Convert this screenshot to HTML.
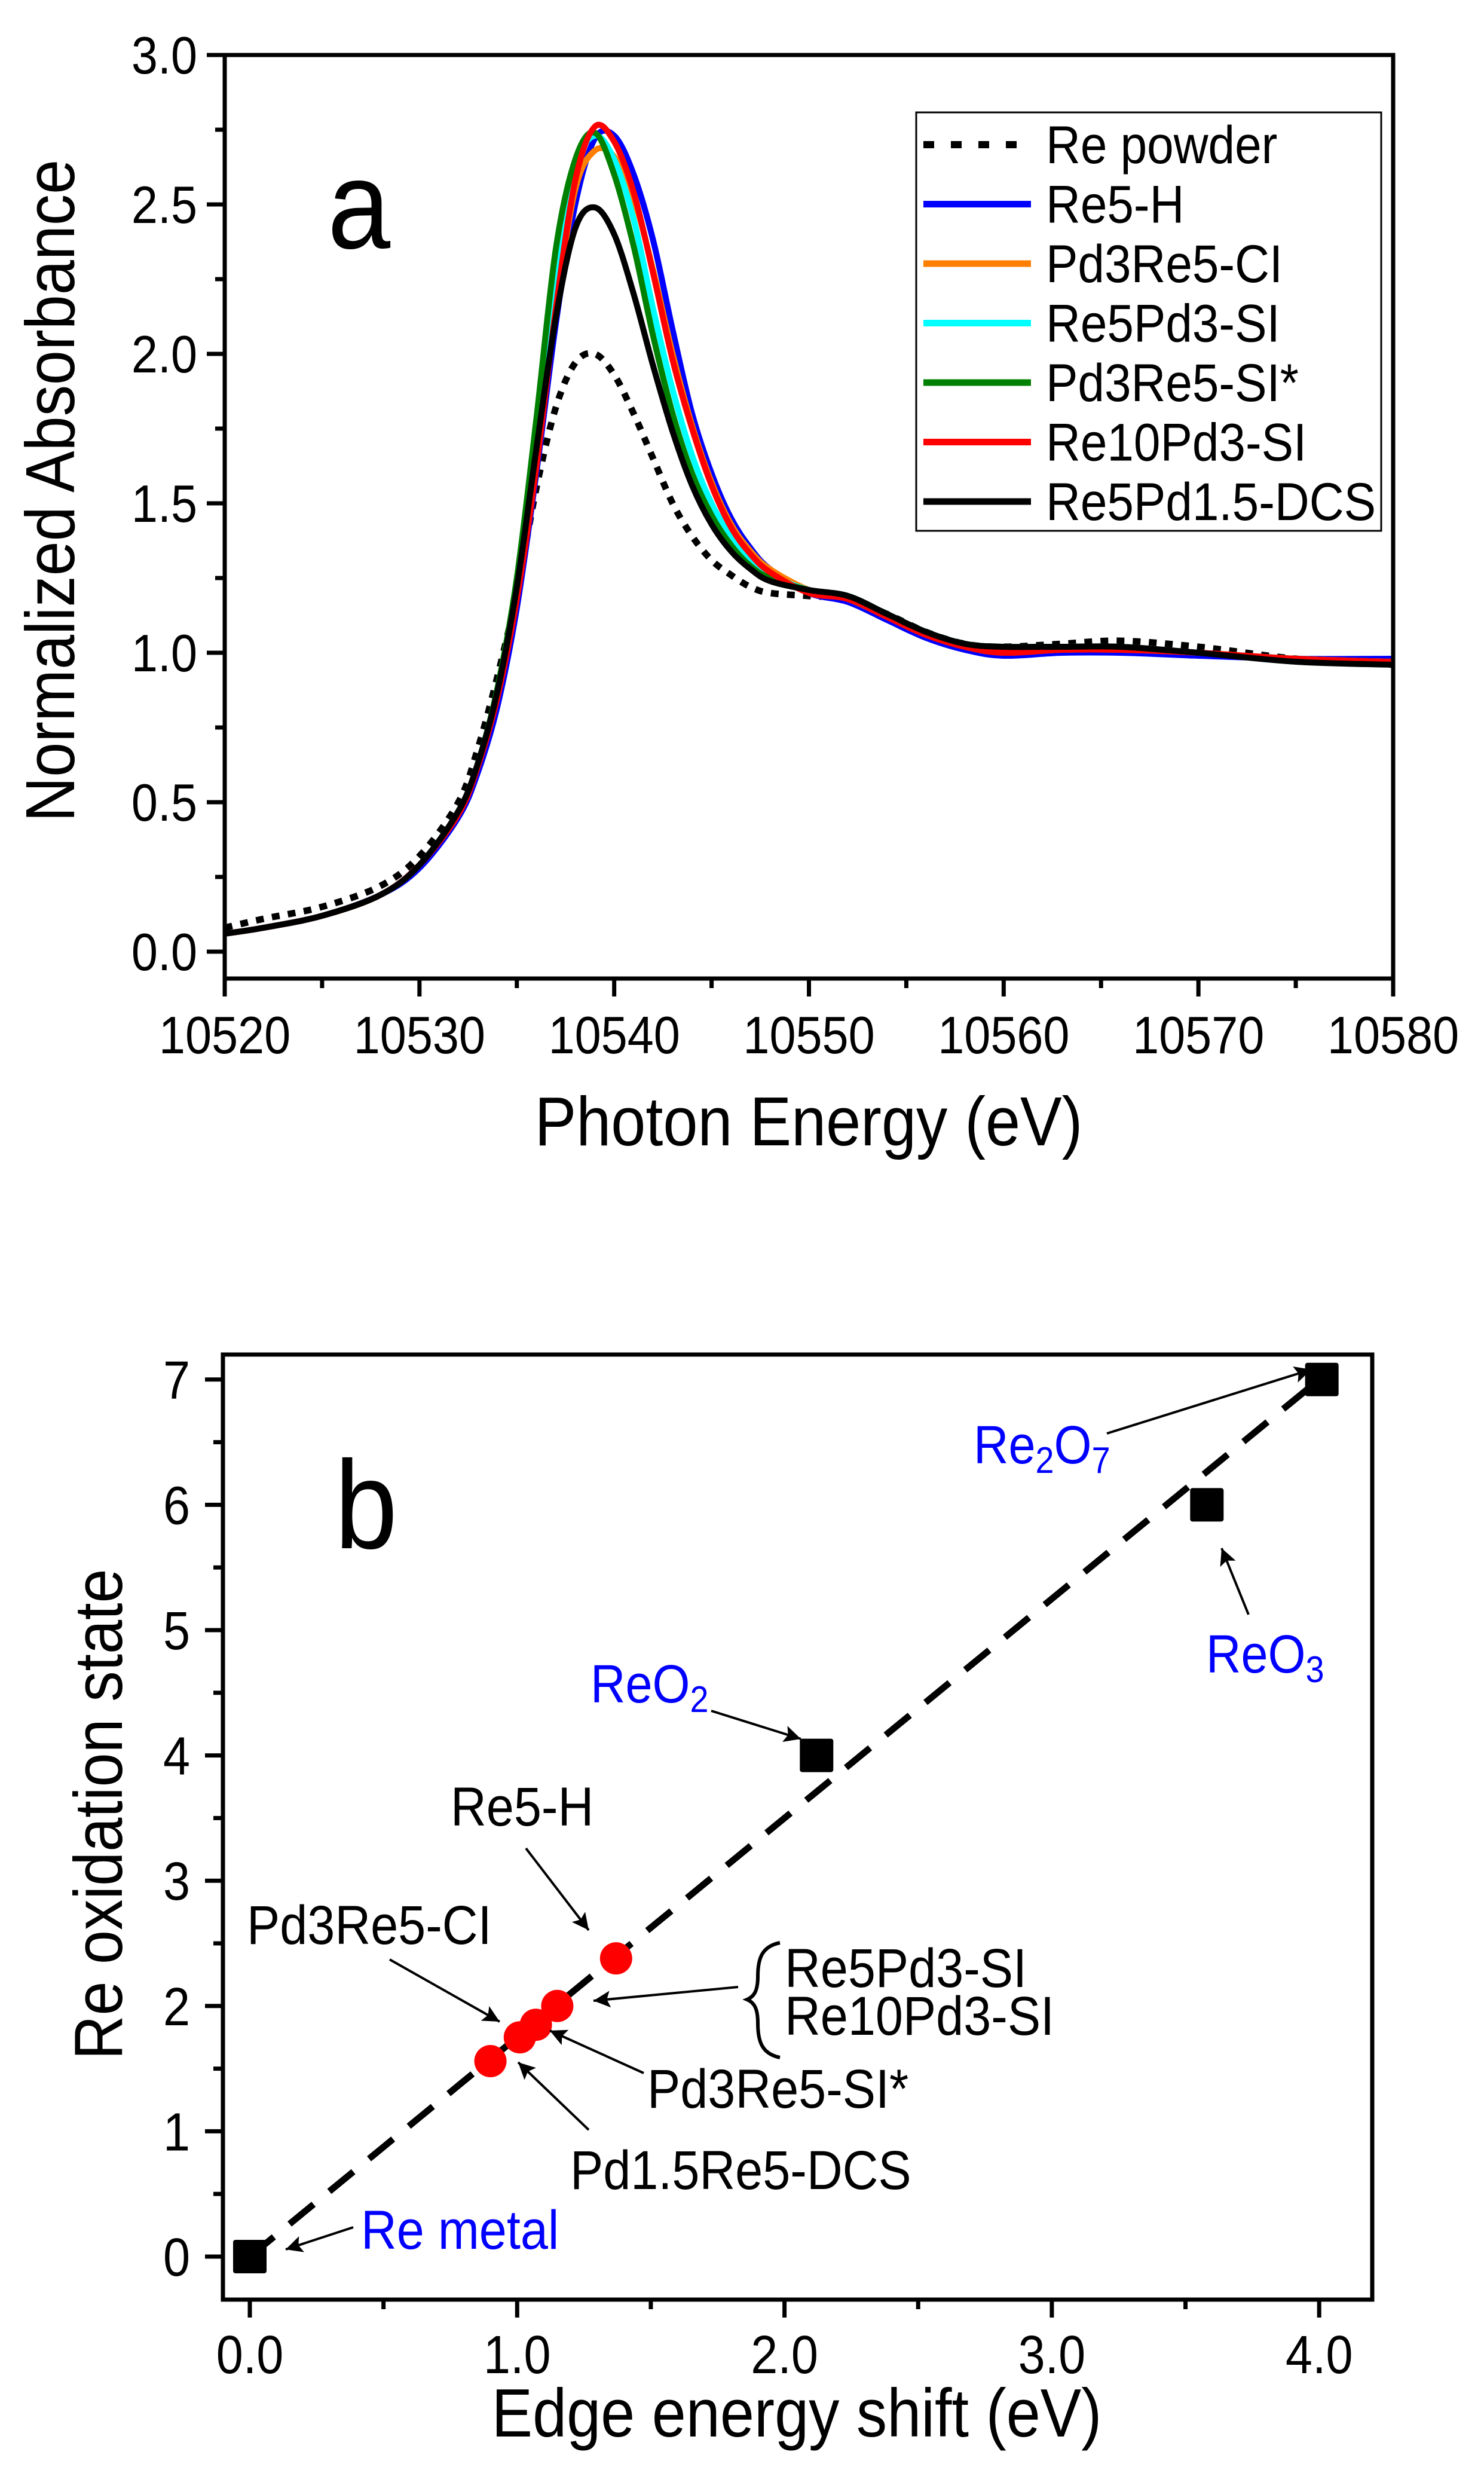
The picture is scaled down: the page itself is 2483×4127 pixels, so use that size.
<!DOCTYPE html>
<html><head><meta charset="utf-8"><style>
html,body{margin:0;padding:0;background:#fff;}
svg{display:block;}
text{font-family:"Liberation Sans",Arial,sans-serif;}
</style></head><body>
<svg id="fig" width="2483" height="4127" viewBox="0 0 2483 4127" xmlns="http://www.w3.org/2000/svg">
<rect width="2483" height="4127" fill="#fff"/>
<g id="chartA"></g>
<g id="chartB"></g>
</svg>
<script>
// ---------- Chart a data ----------
const energies = [10520,10522,10525,10528,10530,10532,10533,10534,10535,10536,10537,10538,10539,10540,10541,10542,10543,10544,10545,10546,10547,10548,10550,10552,10554,10556,10558,10560,10563,10566,10570,10575,10580];
const rePowder = [0.08,0.11,0.15,0.22,0.32,0.50,0.68,0.92,1.20,1.55,1.82,1.97,2.00,1.93,1.80,1.65,1.50,1.39,1.31,1.26,1.22,1.20,1.19,1.18,1.13,1.07,1.03,1.02,1.03,1.04,1.02,0.98,0.96];
const re5H = [0.06,0.08,0.12,0.19,0.28,0.45,0.60,0.82,1.15,1.60,2.10,2.50,2.72,2.73,2.60,2.38,2.08,1.80,1.60,1.45,1.35,1.28,1.20,1.17,1.11,1.05,1.01,0.99,1.00,1.00,0.99,0.98,0.98];
const pd3Re5CI = [0.06,0.08,0.12,0.19,0.29,0.47,0.63,0.86,1.20,1.65,2.15,2.55,2.68,2.66,2.52,2.28,2.00,1.76,1.57,1.43,1.34,1.28,1.21,1.18,1.12,1.06,1.02,1.00,1.01,1.01,1.00,0.98,0.97];
const re5Pd3SI = [0.06,0.08,0.12,0.19,0.29,0.47,0.63,0.87,1.22,1.70,2.25,2.62,2.73,2.65,2.45,2.15,1.88,1.66,1.50,1.39,1.31,1.26,1.21,1.19,1.13,1.07,1.03,1.02,1.02,1.02,1.00,0.98,0.97];
const pd3Re5SIstar = [0.06,0.08,0.12,0.19,0.29,0.47,0.63,0.88,1.25,1.78,2.35,2.65,2.74,2.60,2.36,2.06,1.80,1.60,1.46,1.36,1.29,1.25,1.21,1.19,1.13,1.07,1.03,1.02,1.02,1.02,1.00,0.98,0.97];
const re10Pd3SI = [0.06,0.08,0.12,0.19,0.29,0.46,0.62,0.85,1.18,1.62,2.15,2.58,2.76,2.71,2.54,2.27,1.98,1.75,1.56,1.42,1.33,1.27,1.20,1.18,1.12,1.06,1.02,1.00,1.01,1.01,1.00,0.98,0.97];
const re5Pd15DCS = [0.06,0.08,0.12,0.19,0.29,0.47,0.63,0.87,1.22,1.68,2.12,2.42,2.49,2.40,2.20,1.96,1.74,1.56,1.43,1.34,1.28,1.24,1.21,1.19,1.13,1.07,1.03,1.02,1.02,1.02,1.00,0.97,0.96];
const seriesNamesA = ["Re powder","Re5-H","Pd3Re5-CI","Re5Pd3-SI","Pd3Re5-SI*","Re10Pd3-SI","Re5Pd1.5-DCS"];
const xTicksA = [10520,10530,10540,10550,10560,10570,10580];
const yTicksA = [0.0,0.5,1.0,1.5,2.0,2.5,3.0];

// ---------- Chart b data ----------
const refShift = [0.0,2.12,3.58,4.01];
const refOx = [0,4,6,7];
const sampleShift = [1.37,1.15,1.07,1.01,0.90];
const sampleOx = [2.38,2.00,1.85,1.75,1.56];
const fitX = [0,4];
const fitY = [0,7];
const xTicksB = [0,1,2,3,4];
const yTicksB = [0,1,2,3,4,5,6,7];

const NS="http://www.w3.org/2000/svg";
function mk(parent,tag,attrs){const e=document.createElementNS(NS,tag);for(const k in attrs)e.setAttribute(k,attrs[k]);parent.appendChild(e);return e;}
function txt(parent,x,y,s,size,anchor,color,rot){
  const g=mk(parent,'g',{transform:`translate(${x},${y})`+(rot?` rotate(${rot})`:'')+' scale(0.9,1)'});
  const t=mk(g,'text',{x:0,y:0,'font-size':size,'text-anchor':anchor||'start',fill:color||'#000'});
  t.textContent=s;return t;
}
function smooth(pts){
  let d=`M${pts[0][0]},${pts[0][1]}`;
  for(let i=0;i<pts.length-1;i++){
    const p0=pts[Math.max(0,i-1)],p1=pts[i],p2=pts[i+1],p3=pts[Math.min(pts.length-1,i+2)];
    const c1=[p1[0]+(p2[0]-p0[0])/6,p1[1]+(p2[1]-p0[1])/6];
    const c2=[p2[0]-(p3[0]-p1[0])/6,p2[1]-(p3[1]-p1[1])/6];
    d+=` C${c1[0].toFixed(1)},${c1[1].toFixed(1)} ${c2[0].toFixed(1)},${c2[1].toFixed(1)} ${p2[0].toFixed(1)},${p2[1].toFixed(1)}`;
  }
  return d;
}

// ================= Chart A =================
(function(){
const G=document.getElementById('chartA');
const L=376,R=2331,T=92;
const xA=v=>L+(v-10520)/60*(R-L);
const yA=v=>1592-v*500;
const B=yA(-0.09);
const defs=mk(G,'defs',{});
const cp=mk(defs,'clipPath',{id:'clipA'});
mk(cp,'rect',{x:L,y:T,width:R-L,height:B-T});
const series=[
 {d:rePowder,c:'#000',w:11,dash:'13 14',n:'re-powder-curve'},
 {d:re5H,c:'#0000ff',w:10,n:'re5-h-curve'},
 {d:pd3Re5CI,c:'#ff8000',w:10,n:'pd3re5-ci-curve'},
 {d:re5Pd3SI,c:'#00ffff',w:10,n:'re5pd3-si-curve'},
 {d:pd3Re5SIstar,c:'#008000',w:10,n:'pd3re5-si-star-curve'},
 {d:re10Pd3SI,c:'#ff0000',w:10,n:'re10pd3-si-curve'},
 {d:re5Pd15DCS,c:'#000',w:10,n:'re5pd1-5-dcs-curve'}
];
const cg=mk(G,'g',{'clip-path':'url(#clipA)'});
series.forEach(s=>{
  const pts=energies.map((e,i)=>[xA(e),yA(s.d[i])]);
  const p=mk(cg,'path',{d:smooth(pts),fill:'none',stroke:s.c,'stroke-width':s.w,'stroke-linejoin':'round'});
  if(s.dash)p.setAttribute('stroke-dasharray',s.dash);
  
  
});
const fr=mk(G,'rect',{x:L,y:T,width:R-L,height:B-T,fill:'none',stroke:'#000','stroke-width':7});


for(let v=10520;v<=10580;v+=5){
  const major=(v%10===0);
  const t=mk(G,'line',{x1:xA(v),x2:xA(v),y1:B,y2:B+(major?30:16),stroke:'#000','stroke-width':7});
  
  
}
xTicksA.forEach(v=>{
  const t=txt(G,xA(v),1762,String(v),88,'middle');
  
  
});
for(let v=0;v<=3.0001;v+=0.25){
  const major=(Math.abs(v*2-Math.round(v*2))<1e-6);
  const t=mk(G,'line',{x1:L,x2:L-(major?30:16),y1:yA(v),y2:yA(v),stroke:'#000','stroke-width':7});
  
  
}
yTicksA.forEach(v=>{
  const t=txt(G,330,yA(v)+31,v.toFixed(1),88,'end');
  
  
});
let t=txt(G,1353,1916,'Photon Energy (eV)',116,'middle');


t=txt(G,124,821,'Normalized Absorbance',116,'middle','#000',-90);


t=txt(G,548,415,'a',210,'start');


const lg=mk(G,'g',{});


mk(lg,'rect',{x:1533,y:188,width:778,height:700,fill:'#fff',stroke:'#000','stroke-width':3});
seriesNamesA.forEach((nm,i)=>{
  const y=242+i*99.5;
  const s=series[i];
  const ln=mk(lg,'line',{x1:1545,x2:1725,y1:y,y2:y,stroke:s.c,'stroke-width':s.dash?12:11});
  if(s.dash)ln.setAttribute('stroke-dasharray','18 28');
  
  
  const lt=txt(lg,1750,y+31,nm,89,'start');
  
  
});
})();

// ================= Chart B =================
(function(){
const G=document.getElementById('chartB');
const L=373,R=2296,T=2266,B=3847;
const xB=v=>418+v*447.3;
const yB=v=>3775-v*209.6;
const defs=mk(G,'defs',{});
const mkr=mk(defs,'marker',{id:'arr',viewBox:'0 0 10 10',refX:10,refY:5,orient:'auto',markerUnits:'userSpaceOnUse'});
mkr.setAttribute('markerWidth','46');mkr.setAttribute('markerHeight','28');
mk(mkr,'path',{d:'M0,0 L10,5 L0,10 L2,5 z',fill:'#000'});
const fl=mk(G,'line',{x1:xB(fitX[0]),y1:yB(fitY[0]),x2:xB(fitX[1]),y2:yB(fitY[1]),stroke:'#000','stroke-width':11,'stroke-dasharray':'52 34'});


refShift.forEach((v,i)=>{
  const r=mk(G,'rect',{x:xB(v)-28,y:yB(refOx[i])-28,width:56,height:56,rx:4,fill:'#000'});
  
  
});
sampleShift.forEach((v,i)=>{
  const c=mk(G,'circle',{cx:xB(v),cy:yB(sampleOx[i]),r:27,fill:'#ff0000'});
  
  
});
const fr=mk(G,'rect',{x:L,y:T,width:R-L,height:B-T,fill:'none',stroke:'#000','stroke-width':7});


for(let v=0;v<=4.0001;v+=0.5){
  const major=Math.abs(v-Math.round(v))<1e-6;
  const tk=mk(G,'line',{x1:xB(v),x2:xB(v),y1:B,y2:B+(major?30:16),stroke:'#000','stroke-width':7});
  
  
}
xTicksB.forEach(v=>{
  const t=txt(G,xB(v),3970,v.toFixed(1),90,'middle');
  
  
});
for(let v=0;v<=7.0001;v+=0.5){
  const major=Math.abs(v-Math.round(v))<1e-6;
  const tk=mk(G,'line',{x1:L,x2:L-(major?30:16),y1:yB(v),y2:yB(v),stroke:'#000','stroke-width':7});
  
  
}
yTicksB.forEach(v=>{
  const t=txt(G,318,yB(v)+32,String(v),90,'end');
  
  
});
let t=txt(G,1333,4076,'Edge energy shift (eV)',114,'middle');


t=txt(G,204,3035,'Re oxidation state',114,'middle','#000',-90);


t=txt(G,560,2590,'b',210,'start');


function arrow(x1,y1,x2,y2,name){
  const a=mk(G,'line',{x1,y1,x2,y2,stroke:'#000','stroke-width':4,'marker-end':'url(#arr)'});
  
  
}
function sub(x,y,main,s,after,color,name,s2){
  const g=mk(G,'g',{transform:`translate(${x},${y}) scale(0.9,1)`});
  
  
  const tt=mk(g,'text',{x:0,y:0,'font-size':90,fill:color});
  tt.appendChild(document.createTextNode(main));
  const ts=mk(tt,'tspan',{'font-size':62,dy:16});ts.textContent=s;
  if(after){const ta=mk(tt,'tspan',{'font-size':90,dy:-16});ta.textContent=after;}
  if(s2){const tb=mk(tt,'tspan',{'font-size':62,dy:16});tb.textContent=s2;}
}
sub(1629,2448,'Re','2','O','#0000ff','re2o7-label','7');
arrow(1852,2398,2194,2291,'re2o7-arrow');
sub(2018,2798,'ReO','3','','#0000ff','reo3-label');
arrow(2089,2701,2044,2590,'reo3-arrow');
sub(988,2848,'ReO','2','','#0000ff','reo2-label');
arrow(1190,2862,1340,2909,'reo2-arrow');
t=txt(G,754,3054,'Re5-H',92,'start');


arrow(880,3092,985,3229,'re5-h-arrow');
t=txt(G,413,3252,'Pd3Re5-CI',92,'start');


arrow(652,3278,836,3382,'pd3re5-ci-arrow');
t=txt(G,1313,3324,'Re5Pd3-SI',92,'start');


t=txt(G,1313,3404,'Re10Pd3-SI',92,'start');


const br=mk(G,'path',{d:'M1305,3250 C1275,3256 1268,3276 1268,3306 C1268,3330 1262,3340 1250,3345 C1262,3350 1268,3360 1268,3385 C1268,3415 1275,3436 1305,3442',fill:'none',stroke:'#000','stroke-width':6});


arrow(1235,3324,993,3347,'si-arrow');
t=txt(G,1083,3526,'Pd3Re5-SI*',92,'start');


arrow(1077,3468,920,3397,'pd3re5-si-star-arrow');
t=txt(G,954,3662,'Pd1.5Re5-DCS',92,'start');


arrow(985,3563,867,3450,'dcs-arrow');
t=txt(G,604,3762,'Re metal',92,'start','#0000ff');


arrow(591,3726,478,3763,'re-metal-arrow');
})();
</script>
</body></html>
